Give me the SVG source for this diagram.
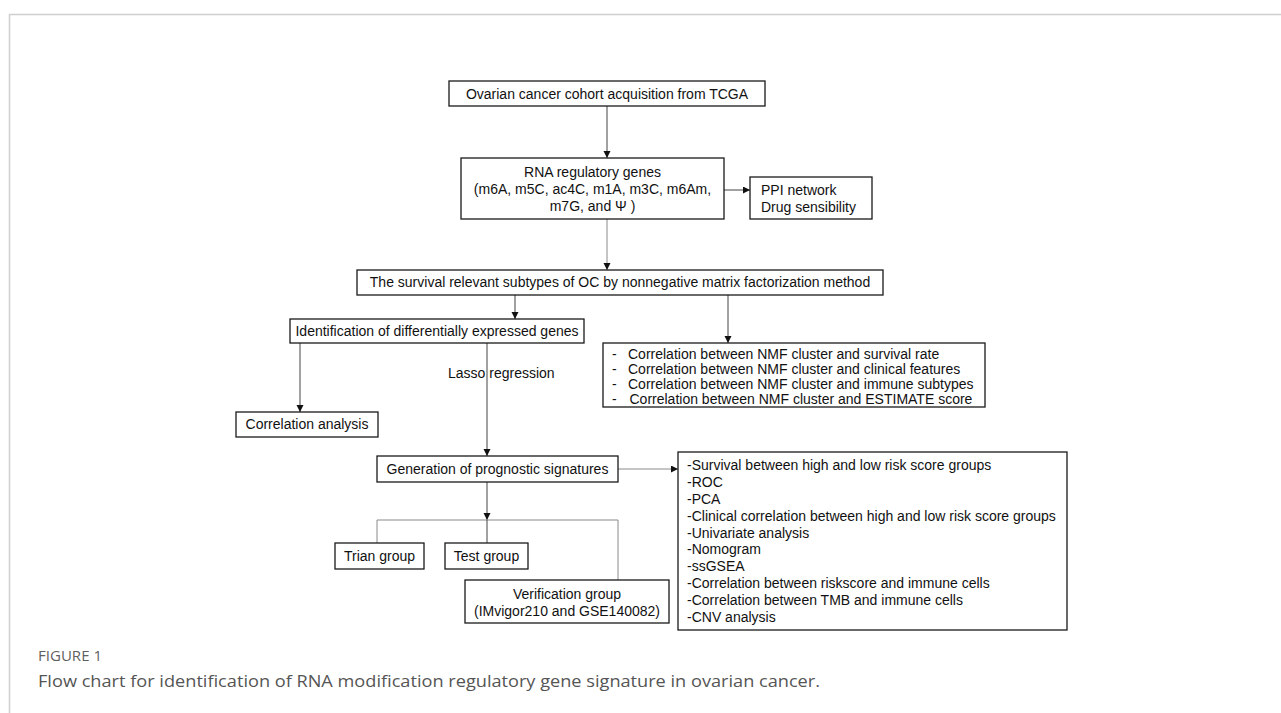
<svg xmlns="http://www.w3.org/2000/svg" width="1281" height="713" viewBox="0 0 1281 713">
<defs>
<marker id="ah" markerUnits="userSpaceOnUse" markerWidth="8" markerHeight="8" refX="7" refY="3.5" orient="auto">
<path d="M0,0 L7,3.5 L0,7 z" fill="#111"/>
</marker>
<style>
.box{fill:#fff;stroke:#1a1a1a;stroke-width:1.3}
.t{font-family:"Liberation Sans",Arial,sans-serif;font-size:14px;fill:#111}
.c{text-anchor:middle}
.ln{fill:none;stroke:#444;stroke-width:1}
.lg{fill:none;stroke:#8a8a8a;stroke-width:1}
.frame{fill:none;stroke:#cfcfcf;stroke-width:1.5}
.cap{font-family:"Open Sans","Noto Sans",sans-serif}
</style>
</defs>
<rect width="1281" height="713" fill="#fff"/>
<path class="frame" d="M9.5,713 V14.5 H1281"/>

<g id="connectors">
<line class="ln" x1="607" y1="106" x2="607" y2="158" marker-end="url(#ah)"/>
<line class="ln" x1="724" y1="190" x2="750" y2="190" marker-end="url(#ah)"/>
<line class="lg" x1="607" y1="219" x2="607" y2="270" marker-end="url(#ah)"/>
<line class="ln" x1="515" y1="295" x2="515" y2="319" marker-end="url(#ah)"/>
<line class="ln" x1="728" y1="295" x2="728" y2="343" marker-end="url(#ah)"/>
<line class="ln" x1="300" y1="343" x2="300" y2="412" marker-end="url(#ah)"/>
<line class="ln" x1="487" y1="343" x2="487" y2="456" marker-end="url(#ah)"/>
<line class="lg" x1="618" y1="469" x2="678" y2="469" marker-end="url(#ah)"/>
<line class="ln" x1="487" y1="482" x2="487" y2="520" marker-end="url(#ah)"/>
<path class="lg" d="M377,543 V520 H618 V580"/>
<line class="ln" x1="487" y1="520" x2="487" y2="543"/>
</g>

<g id="n1">
<rect class="box" x="449" y="81" width="316" height="25"/>
<text class="t c" x="607" y="98.5">Ovarian cancer cohort acquisition from TCGA</text>
</g>
<g id="n2">
<rect class="box" x="461" y="158" width="263" height="61"/>
<text class="t c" x="592.5" y="176.5">RNA regulatory genes</text>
<text class="t c" x="592.5" y="193.5">(m6A, m5C, ac4C, m1A, m3C, m6Am,</text>
<text class="t c" x="592.5" y="210.5">m7G, and Ψ )</text>
</g>
<g id="n3">
<rect class="box" x="750" y="177" width="122" height="42"/>
<text class="t" x="761" y="195">PPI network</text>
<text class="t" x="761" y="212">Drug sensibility</text>
</g>
<g id="n4">
<rect class="box" x="357" y="270" width="526" height="25"/>
<text class="t c" x="620" y="287">The survival relevant subtypes of OC by nonnegative matrix factorization method</text>
</g>
<g id="n5">
<rect class="box" x="290" y="319" width="294" height="24"/>
<text class="t c" x="437" y="336">Identification of differentially expressed genes</text>
</g>
<g id="n6">
<rect class="box" x="603" y="343" width="382" height="64"/>
<text class="t" x="612" y="359">-</text><text class="t" x="628" y="359">Correlation between NMF cluster and survival rate</text>
<text class="t" x="612" y="374">-</text><text class="t" x="628" y="374">Correlation between NMF cluster and clinical features</text>
<text class="t" x="612" y="389">-</text><text class="t" x="628" y="389">Correlation between NMF cluster and immune subtypes</text>
<text class="t" x="612" y="404">-</text><text class="t" x="629.5" y="404">Correlation between NMF cluster and ESTIMATE score</text>
</g>
<g id="n7">
<rect class="box" x="236" y="412" width="142" height="25"/>
<text class="t c" x="307" y="429">Correlation analysis</text>
</g>
<g id="lasso">
<text class="t" x="448" y="378">Lasso regression</text>
</g>
<g id="n8">
<rect class="box" x="377" y="456" width="241" height="26"/>
<text class="t c" x="497.5" y="474">Generation of prognostic signatures</text>
</g>
<g id="n9">
<rect class="box" x="678" y="452" width="389" height="178"/>
<text class="t" x="687" y="470">-Survival between high and low risk score groups</text>
<text class="t" x="687" y="487">-ROC</text>
<text class="t" x="687" y="504">-PCA</text>
<text class="t" x="687" y="521">-Clinical correlation between high and low risk score groups</text>
<text class="t" x="687" y="538">-Univariate analysis</text>
<text class="t" x="687" y="554">-Nomogram</text>
<text class="t" x="687" y="571">-ssGSEA</text>
<text class="t" x="687" y="588">-Correlation between riskscore and immune cells</text>
<text class="t" x="687" y="605">-Correlation between TMB and immune cells</text>
<text class="t" x="687" y="622">-CNV analysis</text>
</g>
<g id="n10">
<rect class="box" x="335" y="543" width="89" height="26"/>
<text class="t c" x="379.5" y="561">Trian group</text>
</g>
<g id="n11">
<rect class="box" x="445" y="543" width="83" height="26"/>
<text class="t c" x="486.5" y="561">Test group</text>
</g>
<g id="n12">
<rect class="box" x="465" y="580" width="204" height="43"/>
<text class="t c" x="567" y="599">Verification group</text>
<text class="t c" x="567" y="615.5">(IMvigor210 and GSE140082)</text>
</g>

<g id="caption">
<text class="cap" x="38" y="661" font-size="14" fill="#5f5f5f" textLength="64" lengthAdjust="spacingAndGlyphs">FIGURE 1</text>
<text class="cap" x="38" y="687" font-size="17" fill="#555" textLength="782" lengthAdjust="spacingAndGlyphs">Flow chart for identification of RNA modification regulatory gene signature in ovarian cancer.</text>
</g>
</svg>
